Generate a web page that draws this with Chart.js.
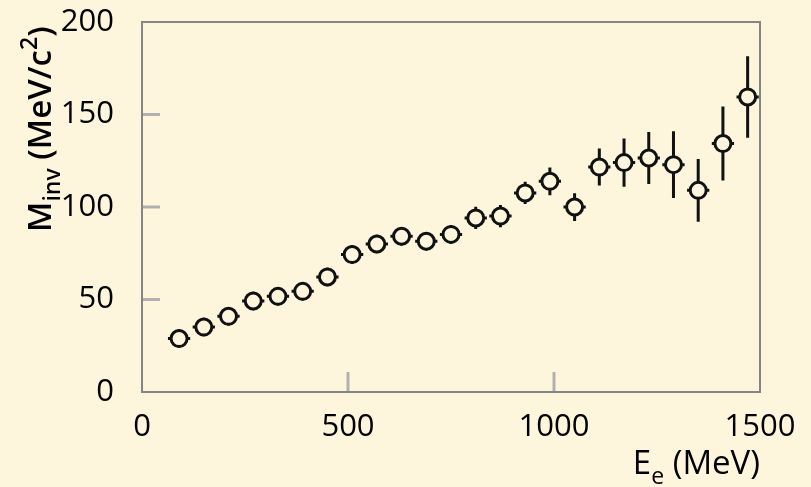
<!DOCTYPE html>
<html lang="en">
<head>
    <meta charset="UTF-8">
    <title>Invariant mass vs electron energy</title>
    <script src="https://cdn.jsdelivr.net/npm/chart.js"></script>
    <style>
        body {
            margin: 0;
            background-color: #fdf6dd;
        }

        .chart-container {
            position: relative;
            width: 811px;
            height: 487px;
        }
    </style>
</head>
<body>
    <div class="chart-container">
        <canvas id="massChart"></canvas>
    </div>

    <script>
        // E_e bin centres (MeV)
        const energy = [90, 150, 210, 270, 330, 390, 450, 510, 570, 630, 690, 750,
                        810, 870, 930, 990, 1050, 1110, 1170, 1230, 1290, 1350, 1410, 1470];
        // M_inv (MeV/c^2)
        const mass = [28.9, 35.1, 40.9, 49.2, 51.7, 54.4, 62.2, 74.3, 80.0, 84.2, 81.5, 85.2,
                      94.1, 95.1, 107.6, 113.9, 100.0, 121.6, 124.0, 126.5, 122.9, 109.0, 134.3, 159.5];
        // vertical error on M_inv
        const massErr = [5, 5, 5, 5, 5, 5, 5, 5, 5, 5, 5, 5,
                         6, 6, 6, 7.5, 7.5, 10, 13, 14, 18, 17, 20, 22];
        // half bin width in E_e
        const energyErr = [27, 27, 27, 27, 27, 27, 27, 27, 27, 27, 27, 27,
                           27, 27, 27, 27, 27, 27, 27, 27, 27, 27, 27, 27];

        const xTicks = [0, 500, 1000, 1500];
        const yTicks = [0, 50, 100, 150, 200];

        const bg = '#fdf6dd';
        const axisGrey = '#858585';
        const textColor = '#000';
        const fontFamily = '"Open Sans", Arial, sans-serif';

        // error bars, drawn before the circles so the circles cover them
        const errorBars = {
            id: 'errorBars',
            beforeDatasetsDraw(chart) {
                const ctx = chart.ctx;
                const xs = chart.scales.x;
                const ys = chart.scales.y;
                ctx.save();
                ctx.strokeStyle = '#111';
                ctx.lineWidth = 3;
                energy.forEach((e, i) => {
                    const px = xs.getPixelForValue(e);
                    const py = ys.getPixelForValue(mass[i]);
                    ctx.beginPath();
                    ctx.moveTo(px, ys.getPixelForValue(mass[i] - massErr[i]));
                    ctx.lineTo(px, ys.getPixelForValue(mass[i] + massErr[i]));
                    ctx.moveTo(xs.getPixelForValue(e - energyErr[i]), py);
                    ctx.lineTo(xs.getPixelForValue(e + energyErr[i]), py);
                    ctx.stroke();
                });
                ctx.restore();
            }
        };

        // box frame, inward ticks and the axis titles with sub/superscripts
        const frame = {
            id: 'frame',
            afterDraw(chart) {
                const ctx = chart.ctx;
                const a = chart.chartArea;
                const xs = chart.scales.x;
                const ys = chart.scales.y;
                ctx.save();

                ctx.strokeStyle = '#b0b0b0';
                ctx.lineWidth = 3;
                yTicks.slice(1, -1).forEach(v => {
                    const py = ys.getPixelForValue(v);
                    ctx.beginPath();
                    ctx.moveTo(a.left, py);
                    ctx.lineTo(a.left + 18, py);
                    ctx.stroke();
                });
                xTicks.slice(1, -1).forEach(v => {
                    const px = xs.getPixelForValue(v);
                    ctx.beginPath();
                    ctx.moveTo(px, a.bottom);
                    ctx.lineTo(px, a.bottom - 20);
                    ctx.stroke();
                });

                ctx.strokeStyle = axisGrey;
                ctx.lineWidth = 2;
                ctx.strokeRect(a.left, a.top, a.right - a.left, a.bottom - a.top);

                ctx.fillStyle = textColor;
                ctx.textBaseline = 'alphabetic';

                // x title: E_e (MeV)
                const big = '33px ' + fontFamily;
                const small = '23px ' + fontFamily;
                ctx.font = big;
                const wE = ctx.measureText('E').width;
                const wRest = ctx.measureText(' (MeV)').width;
                ctx.font = small;
                const wSub = ctx.measureText('e').width;
                const x0 = a.right - (wE + wSub + wRest);
                const yBase = 474;
                ctx.font = big;
                ctx.fillText('E', x0, yBase);
                ctx.font = small;
                ctx.fillText('e', x0 + wE, yBase + 10);
                ctx.font = big;
                ctx.fillText(' (MeV)', x0 + wE + wSub, yBase);

                // y title: M_inv (MeV/c^2), rotated, starting near the bottom
                const bigB = '600 33px ' + fontFamily;
                const smallB = '600 23px ' + fontFamily;
                ctx.translate(51, 232);
                ctx.rotate(-Math.PI / 2);
                let cx = 0;
                ctx.font = bigB;
                ctx.fillText('M', cx, 0);
                cx += ctx.measureText('M').width;
                ctx.font = smallB;
                ctx.fillText('inv', cx, 9);
                cx += ctx.measureText('inv').width;
                ctx.font = bigB;
                ctx.fillText(' (MeV/c', cx, 0);
                cx += ctx.measureText(' (MeV/c').width;
                ctx.font = smallB;
                ctx.fillText('2', cx, -14);
                cx += ctx.measureText('2').width;
                ctx.font = bigB;
                ctx.fillText(')', cx, 0);

                ctx.restore();
            }
        };

        const ctxMass = document.getElementById('massChart').getContext('2d');
        new Chart(ctxMass, {
            type: 'scatter',
            data: {
                datasets: [{
                    label: 'M_inv',
                    data: energy.map((e, i) => ({ x: e, y: mass[i] })),
                    pointStyle: 'circle',
                    pointRadius: 8,
                    pointHoverRadius: 8,
                    borderWidth: 3,
                    borderColor: '#111',
                    backgroundColor: bg
                }]
            },
            options: {
                responsive: true,
                maintainAspectRatio: false,
                animation: false,
                layout: {
                    padding: { left: 0, right: 51, top: 22, bottom: 0 }
                },
                scales: {
                    x: {
                        type: 'linear',
                        min: 0,
                        max: 1500,
                        afterBuildTicks: s => { s.ticks = xTicks.map(v => ({ value: v })); },
                        afterFit: s => {
                            s.height = 95;
                            s.paddingLeft = 0;
                            s.paddingRight = 0;
                        },
                        grid: { display: false },
                        border: { display: false },
                        ticks: {
                            color: textColor,
                            padding: 9,
                            maxRotation: 0,
                            callback: v => String(v),
                            font: { family: fontFamily, size: 31 }
                        }
                    },
                    y: {
                        type: 'linear',
                        min: 0,
                        max: 200,
                        afterBuildTicks: s => { s.ticks = yTicks.map(v => ({ value: v })); },
                        afterFit: s => {
                            s.width = 142;
                            s.paddingTop = 0;
                            s.paddingBottom = 0;
                        },
                        grid: { display: false },
                        border: { display: false },
                        ticks: {
                            color: textColor,
                            padding: 20,
                            callback: v => String(v),
                            font: { family: fontFamily, size: 31 }
                        }
                    }
                },
                plugins: {
                    legend: { display: false },
                    tooltip: { enabled: false }
                }
            },
            plugins: [errorBars, frame]
        });
    </script>
</body>
</html>
